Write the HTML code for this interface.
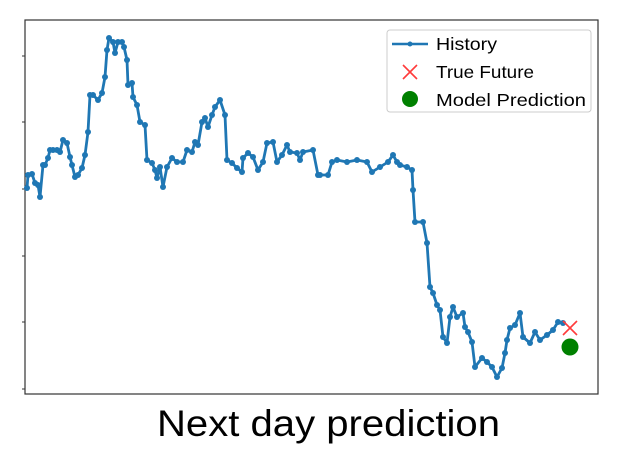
<!DOCTYPE html>
<html><head><meta charset="utf-8">
<style>
html,body{margin:0;padding:0;background:#fff;}
svg{display:block;font-family:"Liberation Sans","DejaVu Sans",sans-serif;}
</style></head>
<body>
<svg id="chart" width="643" height="452" viewBox="0 0 643 452">
  <rect x="25" y="20" width="573" height="374" fill="#fff" stroke="#333" stroke-width="1.2"/>
  <g id="ticks"></g>
  <g id="series"></g>
  <g id="legend">
    <rect x="387" y="30" width="204" height="82" rx="3" fill="#fff" fill-opacity="0.85" stroke="#ccc"/>
    <g>
      <line x1="392" y1="44" x2="428" y2="44" stroke="#1f77b4" stroke-width="2.5"/>
      <circle cx="410" cy="44" r="2.5" fill="#1f77b4"/>
      <text x="436" y="50" font-size="17.5" textLength="61" lengthAdjust="spacingAndGlyphs" fill="#000">History</text>
    </g>
    <g>
      <path d="M403 65 L417 79 M417 65 L403 79" stroke="#ff3b3b" stroke-width="1.6"/>
      <text x="436" y="78" font-size="17.5" textLength="98" lengthAdjust="spacingAndGlyphs" fill="#000">True Future</text>
    </g>
    <g>
      <circle cx="410" cy="99" r="8" fill="#008000"/>
      <text x="436" y="106" font-size="17.5" textLength="150" lengthAdjust="spacingAndGlyphs" fill="#000">Model Prediction</text>
    </g>
  </g>
  <text x="157" y="436" font-size="37" textLength="343" lengthAdjust="spacingAndGlyphs" fill="#000">Next day prediction</text>
</svg>
<script>
// time step (days since start) and price values (arbitrary units)
const days = [2,3,7,10,13,15,18,20,23,25,28,32,35,38,42,45,47,50,53,57,60,63,65,68,73,77,80,82,84,88,90,93,97,99,102,103,107,108,112,115,120,122,127,130,132,135,138,142,147,152,158,162,167,170,173,177,180,183,187,190,195,200,202,207,212,217,218,223,228,233,238,242,248,252,257,262,265,272,275,278,288,293,295,303,307,312,322,332,342,347,355,363,368,372,375,382,387,388,390,398,402,405,408,412,415,418,422,425,428,432,438,440,443,447,450,457,462,467,472,477,480,482,485,490,495,498,505,510,515,522,528,533,538];
const prices = [206,219,220,211,209,197,229,229,236,244,244,244,242,254,251,237,229,217,219,226,239,262,299,299,294,301,317,344,356,352,341,352,352,347,334,309,311,297,289,272,269,234,231,224,216,227,207,227,236,232,232,244,242,252,249,272,276,267,279,287,294,279,234,231,226,222,236,241,237,224,232,251,252,232,239,249,242,241,234,242,244,219,219,219,232,234,232,234,232,222,227,232,239,232,229,227,224,204,172,172,151,107,101,89,84,57,51,77,87,77,81,67,62,52,27,36,32,27,17,26,41,54,66,69,81,57,51,62,54,59,64,72,71];
const trueFuture = [545, 66];
const prediction = [545, 47];

const NS = "http://www.w3.org/2000/svg";
const PX0 = 25, PX1 = 598, PY0 = 394, PY1 = 20;
const xDomain = [0, 573], yDomain = [0, 374];
function xs(v){ return PX0 + (v - xDomain[0]) / (xDomain[1] - xDomain[0]) * (PX1 - PX0); }
function ys(v){ return PY0 - (v - yDomain[0]) / (yDomain[1] - yDomain[0]) * (PY0 - PY1); }

const ticks = document.getElementById('ticks');
const yTickVals = [5, 72, 138, 205, 272, 338];
yTickVals.forEach(function(v){
  const t = document.createElementNS(NS, 'line');
  t.setAttribute('x1', PX0 - 3); t.setAttribute('x2', PX0);
  t.setAttribute('y1', ys(v)); t.setAttribute('y2', ys(v));
  t.setAttribute('stroke', '#333');
  
  
  ticks.appendChild(t);
});

const g = document.getElementById('series');
const n = Math.min(days.length, prices.length);
let d = '';
for (let i = 0; i < n; i++) d += (i ? 'L' : 'M') + xs(days[i]).toFixed(1) + ' ' + ys(prices[i]).toFixed(1);
const path = document.createElementNS(NS, 'path');
path.setAttribute('d', d);
path.setAttribute('fill', 'none');
path.setAttribute('stroke', '#1f77b4');
path.setAttribute('stroke-width', '2.8');
path.setAttribute('stroke-linejoin', 'round');


g.appendChild(path);
for (let i = 0; i < n; i++) {
  const c = document.createElementNS(NS, 'circle');
  c.setAttribute('cx', xs(days[i])); c.setAttribute('cy', ys(prices[i]));
  c.setAttribute('r', '3'); c.setAttribute('fill', '#1f77b4');
  
  
  g.appendChild(c);
}
const svg = document.getElementById('chart');
const tx = xs(trueFuture[0]), ty = ys(trueFuture[1]);
const xm = document.createElementNS(NS, 'path');
xm.setAttribute('d', 'M'+(tx-7)+' '+(ty-7)+' L'+(tx+7)+' '+(ty+7)+' M'+(tx+7)+' '+(ty-7)+' L'+(tx-7)+' '+(ty+7));
xm.setAttribute('stroke', '#ff3b3b'); xm.setAttribute('stroke-width', '1.6');


svg.insertBefore(xm, document.getElementById('legend'));
const pc = document.createElementNS(NS, 'circle');
pc.setAttribute('cx', xs(prediction[0])); pc.setAttribute('cy', ys(prediction[1]));
pc.setAttribute('r', '8.5'); pc.setAttribute('fill', '#008000');


svg.insertBefore(pc, document.getElementById('legend'));
</script>
</body></html>
